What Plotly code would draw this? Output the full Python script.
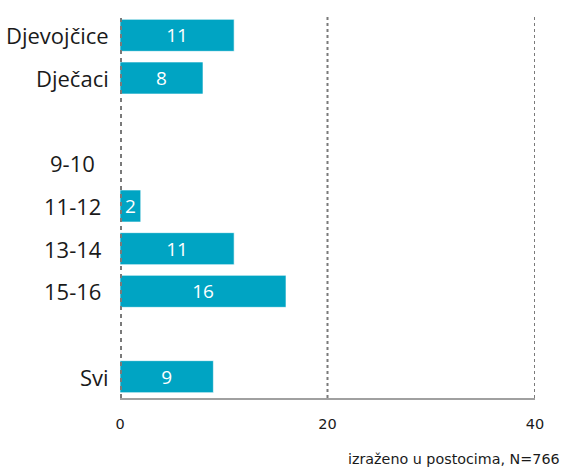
import plotly.graph_objects as go

categories = ["Djevojčice", "Dječaci", " ", "9-10", "11-12", "13-14", "15-16", "  ", "Svi"]
values = [11, 8, None, None, 2, 11, 16, None, 9]
x_ticks = [0, 20, 40]
age_groups = ["9-10", "11-12", "13-14", "15-16"]

labels = ["" if v is None else str(v) for v in values]

fig = go.Figure(go.Bar(
    x=values, y=categories, orientation="h",
    marker=dict(color="#00A4C3", line=dict(color="rgba(255,255,255,0.6)", width=1)),
    width=0.75,
    text=labels, textposition="inside", insidetextanchor="middle",
    textangle=0, constraintext="none",
    textfont=dict(color="white", size=19, family="Open Sans"),
    hoverinfo="skip",
))

fig.update_layout(
    width=564, height=468,
    margin=dict(l=120, r=29, t=14, b=70, autoexpand=False),
    paper_bgcolor="white", plot_bgcolor="white",
    showlegend=False,
    font=dict(family="Open Sans", color="#1a1a1a"),
)
fig.update_yaxes(
    type="category",
    categoryorder="array", categoryarray=categories,
    range=[8.5, -0.5],
    showticklabels=False, ticks="", showgrid=False, showline=False,
)
fig.update_xaxes(
    range=[0, 40], tickvals=x_ticks, ticktext=[str(t) for t in x_ticks],
    showgrid=False,
    zeroline=False, showline=True, linecolor="#a0a0a0", linewidth=2,
    tickfont=dict(size=14.5, family="DejaVu Sans", color="#1a1a1a"),
    ticks="", ticklabelstandoff=12,
)
for t in x_ticks:
    fig.add_shape(type="line", xref="x", yref="paper", x0=t, x1=t, y0=0, y1=1,
                  line=dict(color="#7a7a7a", width=4 if t == 0 else 2, dash="dot"),
                  layer="above" if t == 0 else "below")

# category labels: group labels right-aligned, age labels centred in their column
for c in categories:
    if not c.strip():
        continue
    if c in age_groups:
        fig.add_annotation(text=c, xref="paper", yref="y", x=-0.114, y=c,
                           xanchor="center", yanchor="middle", showarrow=False,
                           font=dict(size=22, family="Open Sans", color="#1a1a1a"))
    else:
        fig.add_annotation(text=c, xref="paper", yref="y", x=-0.021, y=c,
                           xanchor="right", yanchor="middle", showarrow=False,
                           font=dict(size=22, family="Open Sans", color="#1a1a1a"))

fig.add_annotation(
    text="izraženo u postocima, N=766", xref="paper", yref="paper",
    x=1.065, y=-0.159, xanchor="right", yanchor="middle", showarrow=False,
    font=dict(size=14.3, family="DejaVu Sans", color="#1a1a1a"),
)

fig.write_html(
    "out.html",
    config={"displayModeBar": False},
    post_script="document.body.style.margin='0';document.body.style.overflow='hidden';",
)
